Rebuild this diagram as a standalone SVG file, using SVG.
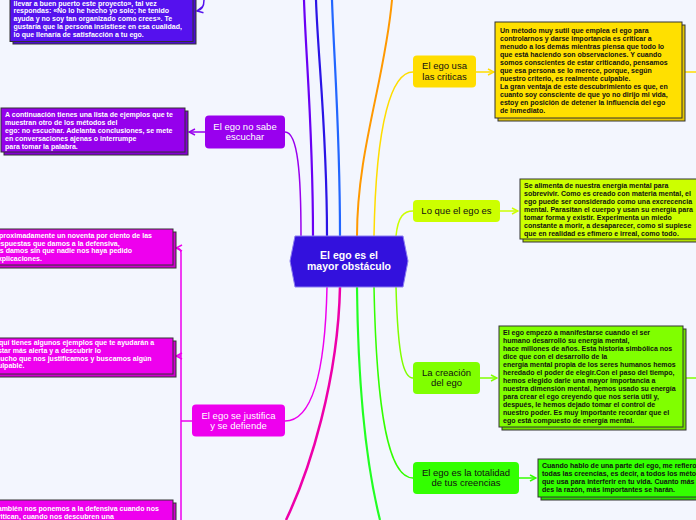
<svg xmlns="http://www.w3.org/2000/svg" width="696" height="520" viewBox="0 0 696 520">
<style>
.bt{font-family:"Liberation Sans",Arial,sans-serif;font-size:7px;font-weight:bold}
.w{fill:#ffffff}
.k{fill:#111111}
.nt{font-family:"Liberation Sans",Arial,sans-serif;font-size:9.5px;text-anchor:middle}
.box{stroke:#333333;stroke-width:1}
.c{fill:none}
</style>
<defs>
<marker id="aY" viewBox="0 0 8 8" refX="7" refY="4" markerWidth="8" markerHeight="8" markerUnits="userSpaceOnUse" orient="auto"><path d="M1,1 L7,4 L1,7" fill="none" stroke="#ffdd00" stroke-width="1.5"/></marker>
<marker id="aYG" viewBox="0 0 8 8" refX="7" refY="4" markerWidth="8" markerHeight="8" markerUnits="userSpaceOnUse" orient="auto"><path d="M1,1 L7,4 L1,7" fill="none" stroke="#ccff00" stroke-width="1.5"/></marker>
<marker id="aG" viewBox="0 0 8 8" refX="7" refY="4" markerWidth="8" markerHeight="8" markerUnits="userSpaceOnUse" orient="auto"><path d="M1,1 L7,4 L1,7" fill="none" stroke="#80ff00" stroke-width="1.5"/></marker>
<marker id="aL" viewBox="0 0 8 8" refX="7" refY="4" markerWidth="8" markerHeight="8" markerUnits="userSpaceOnUse" orient="auto"><path d="M1,1 L7,4 L1,7" fill="none" stroke="#33ff00" stroke-width="1.5"/></marker>
<marker id="aP" viewBox="0 0 8 8" refX="7" refY="4" markerWidth="8" markerHeight="8" markerUnits="userSpaceOnUse" orient="auto"><path d="M1,1 L7,4 L1,7" fill="none" stroke="#9900ee" stroke-width="1.5"/></marker>
<marker id="aM" viewBox="0 0 8 8" refX="7" refY="4" markerWidth="8" markerHeight="8" markerUnits="userSpaceOnUse" orient="auto"><path d="M1,1 L7,4 L1,7" fill="none" stroke="#ee00ee" stroke-width="1.5"/></marker>
<marker id="aV" viewBox="0 0 8 8" refX="7" refY="4" markerWidth="8" markerHeight="8" markerUnits="userSpaceOnUse" orient="auto"><path d="M1,1 L7,4 L1,7" fill="none" stroke="#5511ee" stroke-width="1.5"/></marker>
</defs>
<rect width="696" height="520" fill="#f3f6fe"/>

<g id="connectors" class="c">
  <path d="M301,236 C301,175 298,132 285,132" stroke="#9900ee" stroke-width="1.5"/>
  <path d="M313,236 C313,130 306,60 304,0" stroke="#6a00f4" stroke-width="2.2"/>
  <path d="M327,236 C327,130 318,60 316,0" stroke="#2a14e6" stroke-width="2.2"/>
  <path d="M340,236 C340,130 334,60 332,0" stroke="#2266ff" stroke-width="2.2"/>
  <path d="M357,236 C357,150 385,80 392,0" stroke="#ff9900" stroke-width="2"/>
  <path d="M374,236 C376,120 392,72 413,72" stroke="#ffdd00" stroke-width="1.5"/>
  <path d="M396,236 C398,216 404,211 413,211" stroke="#ccff00" stroke-width="1.5"/>
  <path d="M396,287 C398,360 404,378 413,378" stroke="#80ff00" stroke-width="1.5"/>
  <path d="M374,287 C377,440 394,478 413,478" stroke="#33ff00" stroke-width="1.5"/>
  <path d="M357,287 C358,380 365,460 380,520" stroke="#22ff22" stroke-width="2.2"/>
  <path d="M340,287 C338,380 310,470 286,520" stroke="#ee00aa" stroke-width="2.5"/>
  <path d="M327,287 C325,380 310,421 285,421" stroke="#ee00ee" stroke-width="1.5"/>
  <path d="M476,72 L494,72" stroke="#ffdd00" stroke-width="1.5" marker-end="url(#aY)"/>
  <path d="M683,72 L696,72" stroke="#ffdd00" stroke-width="1.5"/>
  <path d="M500,211 L518,211" stroke="#ccff00" stroke-width="1.5" marker-end="url(#aYG)"/>
  <path d="M479,378 L497,378" stroke="#80ff00" stroke-width="1.5" marker-end="url(#aG)"/>
  <path d="M686,378 L696,378" stroke="#80ff00" stroke-width="1.5"/>
  <path d="M519,478 L536,478" stroke="#33ff00" stroke-width="1.5" marker-end="url(#aL)"/>
  <path d="M205,132 L189,132" stroke="#9900ee" stroke-width="1.5" marker-end="url(#aP)"/>
  <path d="M204,0 C204,6 202,10 197,11" stroke="#5511ee" stroke-width="1.5" marker-end="url(#aV)"/>
  <path d="M192,421 L181,421" stroke="#ee00ee" stroke-width="1.5"/>
  <path d="M181,520 L181,253 Q181,248 176,248" stroke="#ee00ee" stroke-width="1.5" marker-end="url(#aM)"/>
  <path d="M181,356 L176,356" stroke="#ee00ee" stroke-width="1.5" marker-end="url(#aM)"/>
</g>

<g id="center">
  <polygon points="295,236 403,236 408,261 403,287 295,287 290,261" fill="#3311dd" stroke="#8a7cf0" stroke-width="1"/>
  <text x="349" y="259" font-family="Liberation Sans,Arial,sans-serif" font-size="10.5" font-weight="bold" fill="#ffffff" text-anchor="middle">El ego es el</text>
  <text x="349" y="270" font-family="Liberation Sans,Arial,sans-serif" font-size="10.5" font-weight="bold" fill="#ffffff" text-anchor="middle">mayor obstáculo</text>
</g>

<g id="box-top-left">
  <rect x="13" y="-10" width="183" height="54" fill="#4a0dd0" class="box"/>
  <rect x="10" y="-13" width="183" height="54.5" fill="#5511ee" class="box"/>
  <text class="bt w"><tspan x="13.5" y="5.6">llevar a buen puerto este proyecto», tal vez</tspan><tspan x="13.5" y="13.4">respondas: «No lo he hecho yo solo; he tenido</tspan><tspan x="13.5" y="21.2">ayuda y no soy tan organizado como crees». Te</tspan><tspan x="13.5" y="29">gustaría que la persona insistiese en esa cualidad,</tspan><tspan x="13.5" y="36.8">lo que llenaría de satisfacción a tu ego.</tspan></text>
</g>

<g id="node-escuchar">
  <rect x="205" y="115.5" width="80" height="33" rx="4" fill="#9900ee"/>
  <text class="nt w"><tspan x="245" y="130">El ego no sabe</tspan><tspan x="245" y="140">escuchar</tspan></text>
</g>
<g id="box-escuchar">
  <rect x="4" y="111" width="184" height="44" fill="#8400d4" class="box"/>
  <rect x="1" y="108" width="184" height="44" fill="#9500ec" class="box"/>
  <text class="bt w"><tspan x="5" y="117">A continuación tienes una lista de ejemplos que te</tspan><tspan x="5" y="125">muestran otro de los métodos del</tspan><tspan x="5" y="133">ego: no escuchar. Adelanta conclusiones, se mete</tspan><tspan x="5" y="141">en conversaciones ajenas o interrumpe</tspan><tspan x="5" y="149">para tomar la palabra.</tspan></text>
</g>

<g id="node-justifica">
  <rect x="192" y="404.5" width="93" height="32" rx="4" fill="#ee00ee"/>
  <text class="nt w"><tspan x="238.5" y="419">El ego se justifica</tspan><tspan x="238.5" y="429">y se defiende</tspan></text>
</g>
<g id="box-justifica-1">
  <rect x="-7" y="232" width="183" height="36" fill="#d000d0" class="box"/>
  <rect x="-10" y="229" width="183" height="36" fill="#ee00ee" class="box"/>
  <text class="bt w"><tspan x="-6" y="238">Aproximadamente un noventa por ciento de las</tspan><tspan x="-6" y="245.7">respuestas que damos a la defensiva,</tspan><tspan x="-6" y="253.4">las damos sin que nadie nos haya pedido</tspan><tspan x="-6" y="261.1">explicaciones.</tspan></text>
</g>
<g id="box-justifica-2">
  <rect x="-7" y="341" width="183" height="36" fill="#d000d0" class="box"/>
  <rect x="-10" y="338" width="183" height="36" fill="#ee00ee" class="box"/>
  <text class="bt w"><tspan x="-6" y="345">Aquí tienes algunos ejemplos que te ayudarán a</tspan><tspan x="-6" y="352.8">estar más alerta y a descubrir lo</tspan><tspan x="-6" y="360.6">mucho que nos justificamos y buscamos algún</tspan><tspan x="-6" y="368.4">culpable.</tspan></text>
</g>
<g id="box-justifica-3">
  <rect x="-7" y="503" width="183" height="36" fill="#d000d0" class="box"/>
  <rect x="-10" y="500" width="183" height="36" fill="#ee00ee" class="box"/>
  <text class="bt w"><tspan x="-6" y="510.8">También nos ponemos a la defensiva cuando nos</tspan><tspan x="-6" y="518.5">critican, cuando nos descubren una</tspan></text>
</g>

<g id="node-criticas">
  <rect x="413" y="55.5" width="63" height="32" rx="4" fill="#ffdd00"/>
  <text class="nt k"><tspan x="444.5" y="69">El ego usa</tspan><tspan x="444.5" y="79.5">las criticas</tspan></text>
</g>
<g id="box-criticas">
  <rect x="498" y="25" width="187" height="96" fill="#e6c800" class="box"/>
  <rect x="495" y="22" width="187" height="96" fill="#ffe000" class="box"/>
  <text class="bt k"><tspan x="500" y="33.4">Un método muy sutil que emplea el ego para</tspan><tspan x="500" y="41.4">controlarnos y darse importancia es criticar a</tspan><tspan x="500" y="49.4">menudo a los demás mientras piensa que todo lo</tspan><tspan x="500" y="57.4">que está haciendo son observaciones. Y cuando</tspan><tspan x="500" y="65.4">somos conscientes de estar criticando, pensamos</tspan><tspan x="500" y="73.4">que esa persona se lo merece, porque, según</tspan><tspan x="500" y="81.4">nuestro criterio, es realmente culpable.</tspan><tspan x="500" y="89.4">La gran ventaja de este descubrimiento es que, en</tspan><tspan x="500" y="97.4">cuanto soy consciente de que yo no dirijo mi vida,</tspan><tspan x="500" y="105.4">estoy en posición de detener la influencia del ego</tspan><tspan x="500" y="113.4">de inmediato.</tspan></text>
</g>

<g id="node-loque">
  <rect x="413" y="200" width="87" height="22" rx="4" fill="#ccff00"/>
  <text class="nt k" x="456.5" y="214.3">Lo que el ego es</text>
</g>
<g id="box-loque">
  <rect x="523" y="182" width="180" height="60" fill="#b4e000" class="box"/>
  <rect x="520" y="179" width="180" height="60" fill="#ccff00" class="box"/>
  <text class="bt k"><tspan x="524" y="188">Se alimenta de nuestra energía mental para</tspan><tspan x="524" y="196">sobrevivir. Como es creado con materia mental, el</tspan><tspan x="524" y="204">ego puede ser considerado como una excrecencia</tspan><tspan x="524" y="212">mental. Parasitan el cuerpo y usan su energía para</tspan><tspan x="524" y="220">tomar forma y existir. Experimenta un miedo</tspan><tspan x="524" y="228">constante a morir, a desaparecer, como si supiese</tspan><tspan x="524" y="236">que en realidad es efímero e irreal, como todo.</tspan></text>
</g>

<g id="node-creacion">
  <rect x="413" y="362" width="67" height="32" rx="4" fill="#80ff00"/>
  <text class="nt k"><tspan x="446.5" y="376">La creación</tspan><tspan x="446.5" y="386">del ego</tspan></text>
</g>
<g id="box-creacion">
  <rect x="502" y="329" width="184" height="101" fill="#70e000" class="box"/>
  <rect x="499" y="326" width="184" height="101" fill="#80ff00" class="box"/>
  <text class="bt k"><tspan x="503" y="335">El ego empezó a manifestarse cuando el ser</tspan><tspan x="503" y="343">humano desarrolló su energía mental,</tspan><tspan x="503" y="351">hace millones de años. Esta historia simbólica nos</tspan><tspan x="503" y="359">dice que con el desarrollo de la</tspan><tspan x="503" y="367">energía mental propia de los seres humanos hemos</tspan><tspan x="503" y="375">heredado el poder de elegir.Con el paso del tiempo,</tspan><tspan x="503" y="383">hemos elegido darle una mayor importancia a</tspan><tspan x="503" y="391">nuestra dimensión mental, hemos usado su energía</tspan><tspan x="503" y="399">para crear el ego creyendo que nos sería útil y,</tspan><tspan x="503" y="407">después, le hemos dejado tomar el control de</tspan><tspan x="503" y="415">nuestro poder. Es muy importante recordar que el</tspan><tspan x="503" y="423">ego está compuesto de energía mental.</tspan></text>
</g>

<g id="node-totalidad">
  <rect x="413" y="462" width="106" height="32" rx="4" fill="#33ff00"/>
  <text class="nt k"><tspan x="466" y="476">El ego es la totalidad</tspan><tspan x="466" y="486">de tus creencias</tspan></text>
</g>
<g id="box-totalidad">
  <rect x="541" y="462" width="170" height="38" fill="#2ad800" class="box"/>
  <rect x="538" y="459" width="170" height="38" fill="#33ff00" class="box"/>
  <text class="bt k"><tspan x="542" y="468">Cuando hablo de una parte del ego, me refiero a</tspan><tspan x="542" y="476">todas las creencias, es decir, a todos los métodos</tspan><tspan x="542" y="484">que usa para interferir en tu vida. Cuanto más le</tspan><tspan x="542" y="492">des la razón, más importantes se harán.</tspan></text>
</g>
</svg>
